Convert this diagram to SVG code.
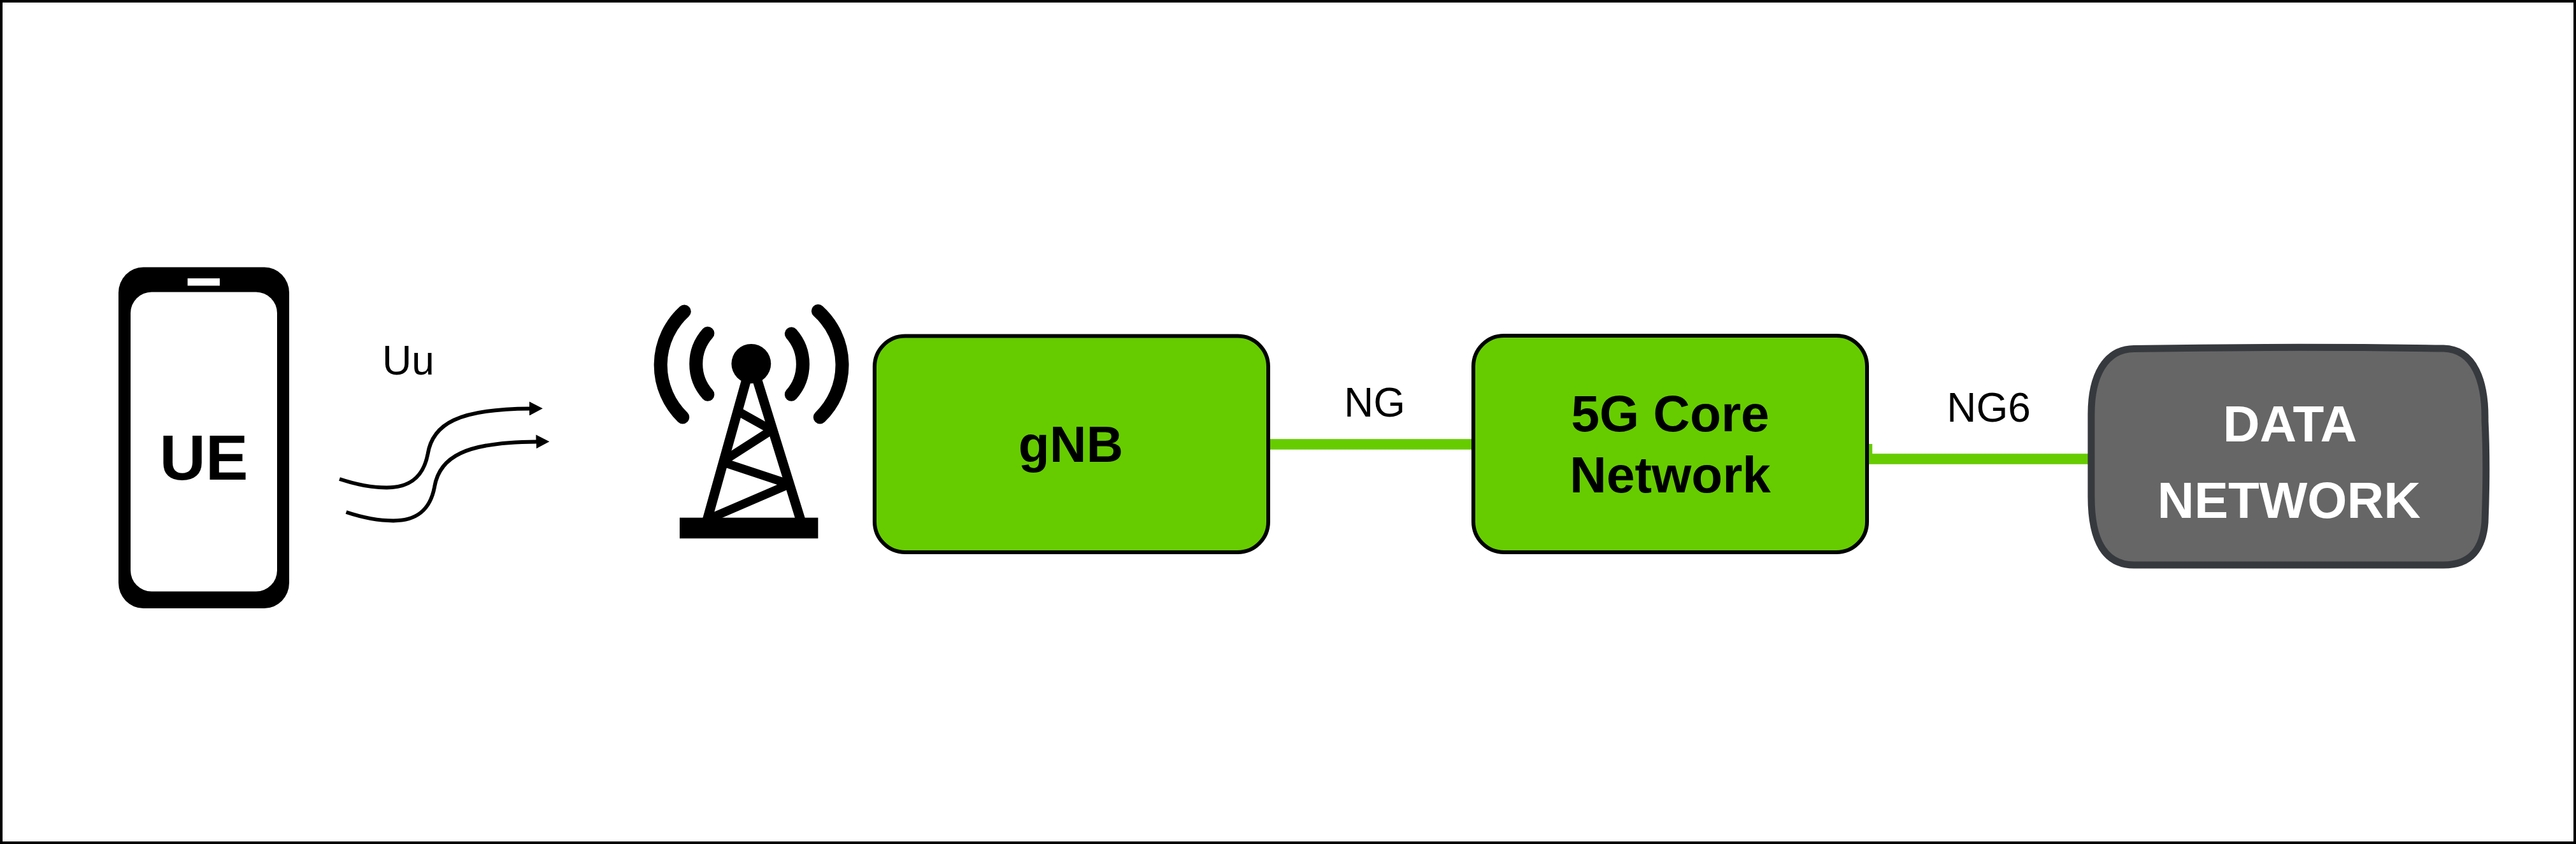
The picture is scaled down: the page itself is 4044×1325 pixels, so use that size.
<svg xmlns="http://www.w3.org/2000/svg" width="4044" height="1325" viewBox="0 0 4044 1325">
<style>
text{font-family:"Liberation Sans",Arial,sans-serif;text-anchor:middle}
.b{font-weight:bold;font-size:80px}
.l{font-size:64px;fill:#000}
.box{fill:#66cc00;stroke:#000;stroke-width:6}
.wave{fill:none;stroke:#000;stroke-width:6;marker-end:url(#ah)}
.link{fill:none;stroke:#66cc00;stroke-width:16.6}
.leg{fill:none;stroke:#000;stroke-width:15}
.tw{fill:none;stroke:#000;stroke-width:13.5}
.arc{fill:none;stroke:#000;stroke-width:21;stroke-linecap:round}
</style>
<defs><marker id="ah" markerUnits="userSpaceOnUse" markerWidth="22" markerHeight="22" refX="1" refY="11" orient="auto" viewBox="0 0 22 22"><path d="M0 0L21 11L0 22Z" fill="#000"/></marker></defs>
<rect id="frame" x="2" y="2" width="4040" height="1321" fill="#fff" stroke="#000" stroke-width="4"/>
<g id="connectors">
<path class="link" d="M1990 697.5H2313"/>
<path class="link" d="M2931 697V720.5H3280"/>
<path class="wave" d="M533 752C560 761 585 765.4 607 765.4C640 765.4 664 752 671.5 713C679 665 720 642 832 641.4"/>
<path class="wave" d="M543.500 804C570.500 813 595.500 817.400 617.500 817.400C650.500 817.400 674.500 804 682 765C689.500 717 730.500 694 842.500 693.400"/>
</g>
<g id="ue">
<rect x="186" y="419.500" width="268" height="535.500" rx="39" ry="40" fill="#000"/>
<rect x="205" y="458.500" width="230" height="470" rx="33" ry="33" fill="#fff"/>
<rect x="294.500" y="437" width="50.500" height="11.500" fill="#fff"/>
<text x="320" y="753" font-size="100" font-weight="bold">UE</text>
</g>
<g id="uu-label"><text class="l" x="641" y="588">Uu</text></g>
<g id="tower">
<circle cx="1179.300" cy="571" r="31"/>
<path class="leg" d="M1110 816.700L1171.200 598.300M1257 816.700L1189.300 598.300"/>
<path class="tw" d="M1157.300 645L1211.700 675.300M1211.700 675L1138.300 722M1135 725.700L1238.700 760M1238.700 760.300L1110 815.700"/>
<rect x="1067" y="812.700" width="217.300" height="32.600"/>
<path class="arc" d="M1074.300 489A114 114 0 0 0 1071.700 655"/>
<path class="arc" d="M1111 523.300A72 72 0 0 0 1111 619.300"/>
<path class="arc" d="M1242.300 524A72 72 0 0 1 1242.300 619.300"/>
<path class="arc" d="M1284.300 488.300A114 114 0 0 1 1287.300 655"/>
</g>
<g id="gnb">
<rect class="box" x="1373" y="527.500" width="618" height="339.500" rx="48"/>
<text class="b" x="1681" y="724.700">gNB</text>
</g>
<g id="ng-label"><text class="l" x="2158" y="653.500">NG</text></g>
<g id="core">
<rect class="box" x="2313" y="527" width="618" height="340" rx="48"/>
<text class="b" x="2622" y="676.500">5G Core</text>
<text class="b" x="2622" y="772.700">Network</text>
</g>
<g id="ng6-label"><text class="l" x="3122" y="661.700">NG6</text></g>
<g id="data-network">
<path d="M3350 547.500C3500 545 3700 545 3836 547C3885 548 3902 600 3901 660C3904 720 3903 770 3901 820C3898 860 3880 887 3836 887H3350C3305 887 3283 850 3283 780V650C3283 590 3305 548 3350 547.500Z" fill="#666" stroke="#36393d" stroke-width="11"/>
<text class="b" x="3595" y="692.700" fill="#fff">DATA</text>
<text class="b" x="3593.500" y="812.700" fill="#fff">NETWORK</text>
</g>
</svg>
